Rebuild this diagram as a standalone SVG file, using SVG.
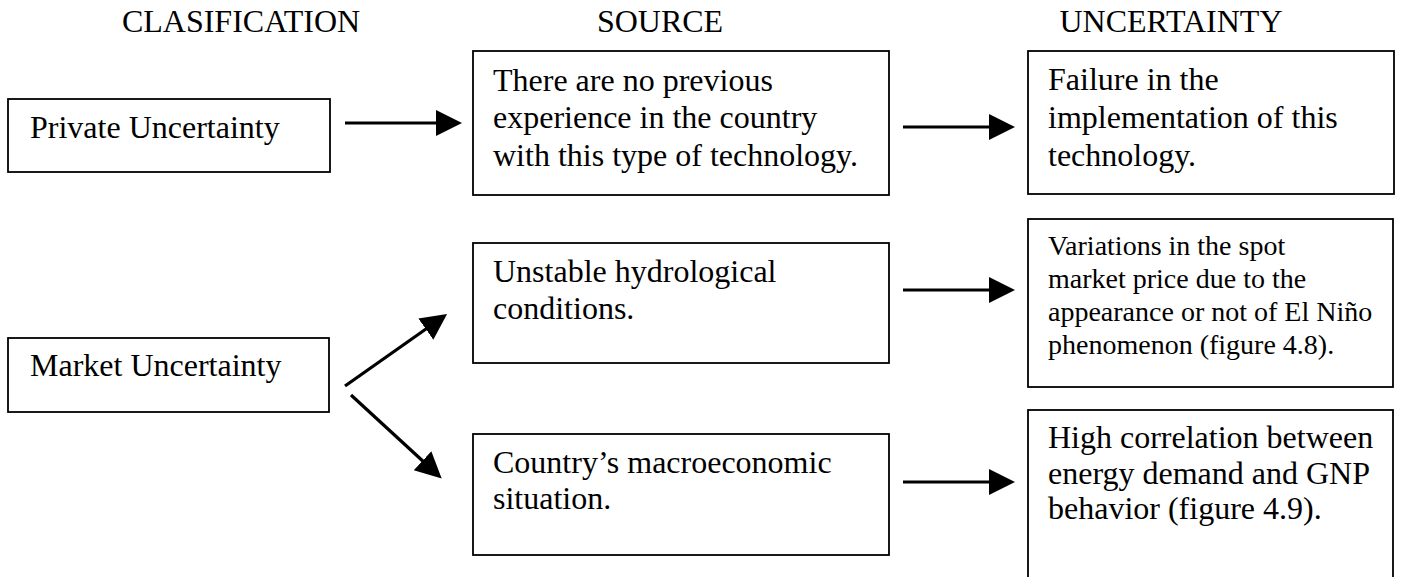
<svg xmlns="http://www.w3.org/2000/svg" width="1427" height="577" viewBox="0 0 1427 577">
  <style>
    .box { fill: #ffffff; stroke: #000000; stroke-width: 1.8; }
    .hdr { font-family: "Liberation Serif", "Times New Roman", serif; font-size: 32px; fill: #000000; text-anchor: middle; }
    .txt { font-family: "Liberation Serif", "Times New Roman", serif; font-size: 32px; fill: #000000; }
    .sm { font-size: 28px; }
    .conn { stroke: #000000; stroke-width: 3.2; fill: none; marker-end: url(#arrow); }
  </style>
  <defs>
    <marker id="arrow" markerUnits="userSpaceOnUse" markerWidth="28" markerHeight="28" refX="21" refY="13" orient="auto">
      <path d="M0,0 L26,13 L0,26 Z" fill="#000000"/>
    </marker>
  </defs>
  <rect width="1427" height="577" fill="#ffffff"/>

  <g id="headers">
    <text class="hdr" x="241" y="32">CLASIFICATION</text>
    <text class="hdr" x="660" y="32">SOURCE</text>
    <text class="hdr" x="1171" y="32">UNCERTAINTY</text>
  </g>

  <g id="private-uncertainty">
    <rect class="box" x="8" y="99" width="322" height="73"/>
    <text class="txt" x="30" y="138">Private Uncertainty</text>
  </g>

  <g id="market-uncertainty">
    <rect class="box" x="8" y="338" width="321" height="74"/>
    <text class="txt" x="30" y="376">Market Uncertainty</text>
  </g>

  <g id="source-no-experience">
    <rect class="box" x="473" y="51" width="416" height="144"/>
    <text class="txt" x="493" y="91">There are no previous</text>
    <text class="txt" x="493" y="128">experience in the country</text>
    <text class="txt" x="493" y="166">with this type of technology.</text>
  </g>

  <g id="source-hydrological">
    <rect class="box" x="473" y="243" width="416" height="120"/>
    <text class="txt" x="493" y="282">Unstable hydrological</text>
    <text class="txt" x="493" y="319">conditions.</text>
  </g>

  <g id="source-macroeconomic">
    <rect class="box" x="473" y="434" width="416" height="121"/>
    <text class="txt" x="493" y="473">Country’s macroeconomic</text>
    <text class="txt" x="493" y="509">situation.</text>
  </g>

  <g id="uncertainty-failure">
    <rect class="box" x="1028" y="51" width="366" height="143"/>
    <text class="txt" x="1048" y="90">Failure in the</text>
    <text class="txt" x="1048" y="128">implementation of this</text>
    <text class="txt" x="1048" y="166">technology.</text>
  </g>

  <g id="uncertainty-spot-price">
    <rect class="box" x="1028" y="219" width="365" height="168"/>
    <text class="txt sm" x="1048" y="255">Variations in the spot</text>
    <text class="txt sm" x="1048" y="288">market price due to the</text>
    <text class="txt sm" x="1048" y="321">appearance or not of El Niño</text>
    <text class="txt sm" x="1048" y="354">phenomenon (figure 4.8).</text>
  </g>

  <g id="uncertainty-gnp">
    <rect class="box" x="1028" y="410" width="365" height="180"/>
    <text class="txt" x="1048" y="448">High correlation between</text>
    <text class="txt" x="1048" y="484">energy demand and GNP</text>
    <text class="txt" x="1048" y="519">behavior (figure 4.9).</text>
  </g>

  <g id="connectors">
    <line class="conn" x1="345" y1="123" x2="457" y2="123"/>
    <line class="conn" x1="903" y1="127" x2="1010" y2="127"/>
    <line class="conn" x1="903" y1="290" x2="1010" y2="290"/>
    <line class="conn" x1="903" y1="482" x2="1010" y2="482"/>
    <line class="conn" x1="345" y1="386" x2="443" y2="317"/>
    <line class="conn" x1="351" y1="395" x2="438" y2="475"/>
  </g>
</svg>
